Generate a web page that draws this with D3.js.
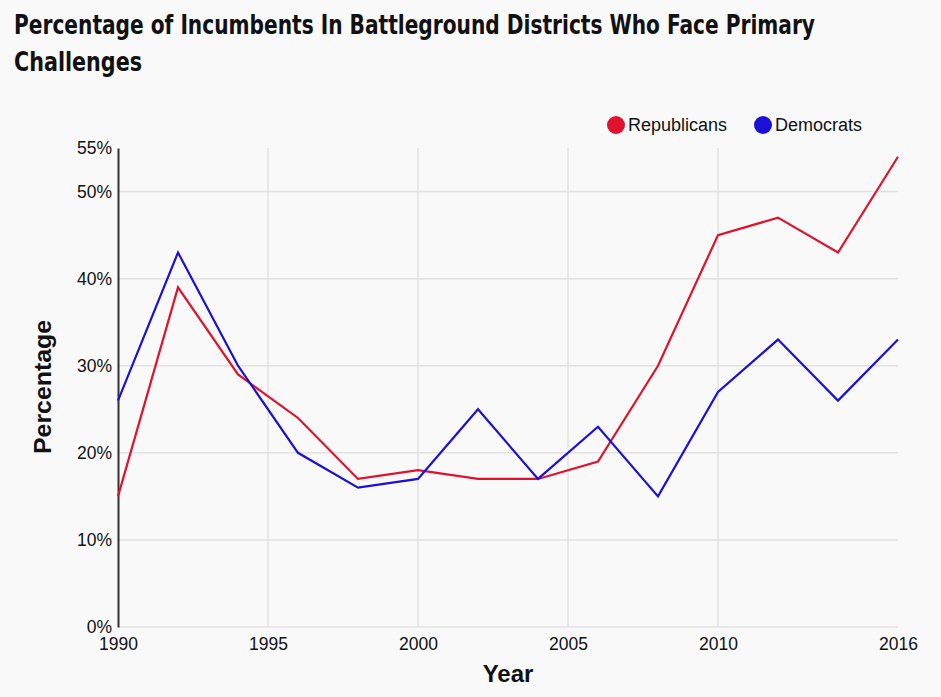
<!DOCTYPE html>
<html>
<head>
<meta charset="utf-8">
<script src="https://cdn.jsdelivr.net/npm/d3@7"></script>
<style>
  body { margin: 0; background: #f9f9f9; }
  svg { display: block; font-family: "Liberation Sans", Arial, sans-serif; }
</style>
</head>
<body>
<div id="chart"></div>
<script>
  // data
  const years = [1990, 1992, 1994, 1996, 1998, 2000, 2002, 2004, 2006, 2008, 2010, 2012, 2014, 2016];
  const republicans = [15, 39, 29, 24, 17, 18, 17, 17, 19, 30, 45, 47, 43, 54];
  const democrats = [26, 43, 30, 20, 16, 17, 25, 17, 23, 15, 27, 33, 26, 33];
  const xTicks = [1990, 1995, 2000, 2005, 2010, 2016];
  const yTicks = [0, 10, 20, 30, 40, 50, 55];
  const titleLines = ["Percentage of Incumbents In Battleground Districts Who Face Primary", "Challenges"];

  const series = [
    { name: "Republicans", values: republicans, color: "#e0122e" },
    { name: "Democrats", values: democrats, color: "#1a10d6" }
  ];

  const width = 941;
  const height = 697;
  const margin = { top: 148, right: 43, bottom: 70, left: 118 };
  const chartWidth = width - margin.left - margin.right;
  const chartHeight = height - margin.top - margin.bottom;

  const svg = d3.select("#chart")
    .append("svg")
    .attr("width", width)
    .attr("height", height);

  svg.append("rect")
    .attr("width", width)
    .attr("height", height)
    .attr("fill", "#f9f9f9");

  // title
  const titleWidths = [801, 128];
  svg.selectAll(".title")
    .data(titleLines)
    .join("text")
    .attr("class", "title")
    .attr("x", 14)
    .attr("y", (d, i) => 34 + i * 37)
    .attr("textLength", (d, i) => titleWidths[i])
    .attr("lengthAdjust", "spacingAndGlyphs")
    .style("font-family", "'Liberation Sans Narrow', 'DejaVu Sans Condensed', 'Liberation Sans', sans-serif")
    .style("font-weight", "bold")
    .style("font-size", "26px")
    .style("fill", "#111")
    .text(d => d);

  const chart = svg.append("g")
    .attr("transform", `translate(${margin.left}, ${margin.top})`);

  const xScale = d3.scaleLinear()
    .domain([1990, 2016])
    .range([0, chartWidth]);

  const yScale = d3.scaleLinear()
    .domain([0, 55])
    .range([chartHeight, 0]);

  // grid
  chart.append("g")
    .selectAll("line")
    .data(yTicks.filter(d => d < 55))
    .join("line")
    .attr("x1", 0)
    .attr("x2", chartWidth)
    .attr("y1", d => yScale(d))
    .attr("y2", d => yScale(d))
    .attr("stroke", "#e2e2e2")
    .attr("stroke-width", 1.5);

  chart.append("g")
    .selectAll("line")
    .data(xTicks.filter(d => d > 1990 && d < 2016))
    .join("line")
    .attr("x1", d => xScale(d))
    .attr("x2", d => xScale(d))
    .attr("y1", 0)
    .attr("y2", chartHeight)
    .attr("stroke", "#e2e2e2")
    .attr("stroke-width", 1.5);

  // x axis
  const xAxis = d3.axisBottom(xScale)
    .tickValues(xTicks)
    .tickFormat(d3.format("d"))
    .tickSize(0)
    .tickPadding(11);

  const gx = chart.append("g")
    .attr("transform", `translate(0, ${chartHeight})`)
    .call(xAxis);
  gx.select(".domain").remove();
  gx.selectAll("text")
    .style("font-size", "17.5px")
    .style("font-family", "'Liberation Sans', Arial, sans-serif")
    .attr("fill", "#111");

  // y axis
  const yAxis = d3.axisLeft(yScale)
    .tickValues(yTicks)
    .tickFormat(d => d + "%")
    .tickSize(0)
    .tickPadding(6);

  const gy = chart.append("g").call(yAxis);
  gy.select(".domain")
    .attr("stroke", "#333")
    .attr("stroke-width", 2);
  gy.selectAll("text")
    .style("font-size", "17.5px")
    .style("font-family", "'Liberation Sans', Arial, sans-serif")
    .attr("fill", "#111");

  // lines
  const line = d3.line()
    .x((d, i) => xScale(years[i]))
    .y(d => yScale(d));

  chart.selectAll(".line")
    .data(series)
    .join("path")
    .attr("class", "line")
    .attr("fill", "none")
    .attr("stroke", d => d.color)
    .attr("stroke-width", 2.2)
    .attr("stroke-linejoin", "miter")
    .attr("d", d => line(d.values));

  // axis titles
  svg.append("text")
    .attr("x", 508)
    .attr("y", 682)
    .attr("text-anchor", "middle")
    .style("font-size", "24px")
    .style("font-weight", "900")
    .style("fill", "#111")
    .text("Year");

  svg.append("text")
    .attr("transform", "translate(51, 387) rotate(-90)")
    .attr("text-anchor", "middle")
    .attr("textLength", 134)
    .attr("lengthAdjust", "spacingAndGlyphs")
    .style("font-size", "24px")
    .style("font-weight", "900")
    .style("fill", "#111")
    .text("Percentage");

  // legend
  const legendX = [616, 763];
  const legend = svg.selectAll(".legend")
    .data(series)
    .join("g")
    .attr("class", "legend")
    .attr("transform", (d, i) => `translate(${legendX[i]}, 125)`);

  legend.append("circle")
    .attr("r", 9)
    .attr("fill", d => d.color);

  legend.append("text")
    .attr("x", 12)
    .attr("dy", "0.35em")
    .style("font-size", "18px")
    .style("fill", "#111")
    .text(d => d.name);
</script>
</body>
</html>
